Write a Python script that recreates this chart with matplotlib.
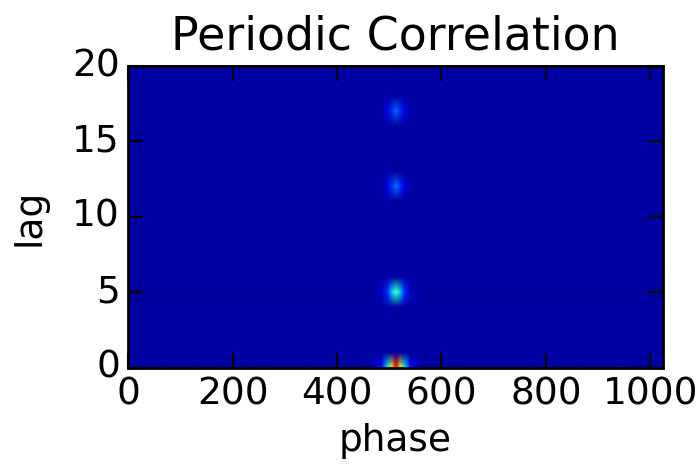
import numpy as np
import matplotlib
matplotlib.use("Agg")
import matplotlib.pyplot as plt
from matplotlib.image import NonUniformImage

# phase columns (image grid) and lag rows
phase_cols = [0, 460, 484, 496, 504, 510, 512, 514, 520, 528, 540, 564, 1023]
lags = list(range(21))

# correlation level away from the peaks, and at the phase=512 column
background = 0.035
center_dip = 0.0
# lag 5 row is a touch darker across
row_background = {5: 0.025}

# peaks seen at phase ~512
peak_lags = [0, 5, 12, 17]
peak_heights = [0.95, 0.46, 0.25, 0.24]
# relative spot profile across phase_cols
spot_shape = [0.0, 0.0, 0.12, 0.38, 0.7, 0.9, 0.92, 0.9, 0.7, 0.38, 0.12, 0.0, 0.0]

z = np.full((len(lags), len(phase_cols)), background)
for lag, lvl in row_background.items():
    z[lag, :] = lvl
z[:, phase_cols.index(512)] = center_dip
for lag, h in zip(peak_lags, peak_heights):
    z[lag, :] = np.maximum(z[lag, :], h * np.array(spot_shape))

plt.style.use("classic")
fig = plt.figure(figsize=(6.97, 4.65), dpi=100, facecolor="white")
ax = fig.add_axes([0.184, 0.209, 0.767, 0.649])

im = NonUniformImage(ax, interpolation="bilinear", cmap="jet",
                     extent=(0, 1024, 0, 20))
im.set_data(np.array(phase_cols, float), np.array(lags, float), z)
im.set_clim(0, 1)
ax.add_image(im)
ax.set_xlim(0, 1024)
ax.set_ylim(0, 20)

ax.set_xticks([0, 200, 400, 600, 800, 1000])
ax.set_yticks([0, 5, 10, 15, 20])
ax.tick_params(labelsize=27, length=11, width=1.5, pad=6)
for s in ax.spines.values():
    s.set_linewidth(2)

ax.set_title("Periodic Correlation", fontsize=33, pad=12)
ax.set_xlabel("phase", fontsize=27, labelpad=8)
ax.set_ylabel("lag", fontsize=27, labelpad=18)

fig.savefig("out.png", dpi=100, facecolor="white")
